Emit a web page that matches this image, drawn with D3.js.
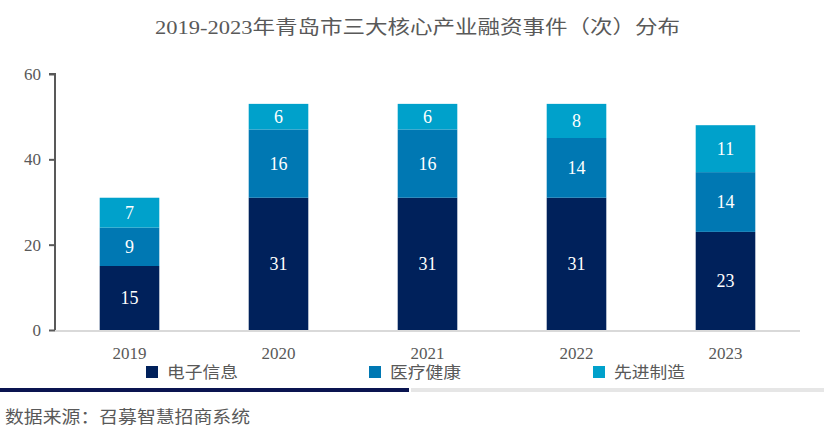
<!DOCTYPE html>
<html>
<head>
<meta charset="utf-8">
<script src="https://cdn.jsdelivr.net/npm/d3@7"></script>
<style>
  body { margin: 0; background: #fff; }
  text { font-family: "Liberation Serif", "Noto Sans CJK SC", serif; }
</style>
</head>
<body>
<svg id="chart" width="824" height="443"></svg>
<script>
const years = ["2019", "2020", "2021", "2022", "2023"];
const seriesNames = ["电子信息", "医疗健康", "先进制造"];
const electronic = [15, 31, 31, 31, 23];
const medical = [9, 16, 16, 14, 14];
const manufacturing = [7, 6, 6, 8, 11];
const yTicks = [0, 20, 40, 60];
const colors = ["#00215b", "#0078b3", "#00a1cb"];

const svg = d3.select("#chart");
const margin = { left: 55, right: 24, top: 74, bottom: 113 };
const width = 824, height = 443;

const x = d3.scaleBand().domain(years)
  .range([margin.left, width - margin.right]).paddingInner(0.6).paddingOuter(0.3);
const y = d3.scaleLinear().domain([0, 60]).range([height - margin.bottom, margin.top]);

// title (reference glyphs are wide, so stretch to the same span)
svg.append("text")
  .attr("x", 155).attr("y", 34)
  .attr("font-size", 19)
  .attr("fill", "#595959")
  .attr("textLength", 525)
  .attr("lengthAdjust", "spacingAndGlyphs")
  .text("2019-2023年青岛市三大核心产业融资事件（次）分布");

// stack
const rows = years.map((yr, i) => ({ year: yr, a: electronic[i], b: medical[i], c: manufacturing[i] }));
const stack = d3.stack().keys(["a", "b", "c"])(rows);

const groups = svg.selectAll("g.series").data(stack).enter()
  .append("g").attr("fill", (d, i) => colors[i]);

groups.selectAll("rect").data(d => d).enter().append("rect")
  .attr("x", d => x(d.data.year))
  .attr("y", d => y(d[1]))
  .attr("width", x.bandwidth())
  .attr("height", d => y(d[0]) - y(d[1]));

groups.selectAll("text").data(d => d.map(p => ({ p, key: d.key }))).enter().append("text")
  .attr("x", d => x(d.p.data.year) + x.bandwidth() / 2)
  .attr("y", d => (y(d.p[0]) + y(d.p[1])) / 2 + 6)
  .attr("text-anchor", "middle")
  .attr("font-size", 18)
  .attr("fill", "#fff")
  .text(d => d.p.data[d.key]);

// x axis line
svg.append("line")
  .attr("x1", margin.left).attr("x2", width - margin.right)
  .attr("y1", y(0) + 1).attr("y2", y(0) + 1)
  .attr("stroke", "#d9d9d9").attr("stroke-width", 2);

// x labels
svg.selectAll("text.xl").data(years).enter().append("text")
  .attr("x", d => x(d) + x.bandwidth() / 2)
  .attr("y", 359)
  .attr("text-anchor", "middle")
  .attr("font-size", 17)
  .attr("fill", "#595959")
  .text(d => d);

// y axis
const yAxis = svg.append("g")
  .attr("transform", `translate(${margin.left},0)`)
  .call(d3.axisLeft(y).tickValues(yTicks).tickSize(6).tickPadding(8));
yAxis.select(".domain").attr("stroke", "#595959").attr("stroke-width", 2)
  .attr("d", `M-6,${y(60)}H0V${y(0)}`);
yAxis.selectAll(".tick line").attr("stroke", "#595959").attr("stroke-width", 2);
yAxis.selectAll(".tick text")
  .attr("font-size", 17).attr("fill", "#595959")
  .attr("font-family", "Liberation Serif, serif");

// legend
const legendX = [146, 369, 593];
const lg = svg.selectAll("g.lg").data(seriesNames).enter().append("g")
  .attr("transform", (d, i) => `translate(${legendX[i]},366)`);
lg.append("rect").attr("width", 12).attr("height", 12).attr("fill", (d, i) => colors[i]);
lg.append("text").attr("x", 21).attr("y", 12)
  .attr("font-size", 16).attr("fill", "#595959")
  .attr("font-family", "Noto Sans CJK SC, sans-serif")
  .attr("textLength", 71)
  .attr("lengthAdjust", "spacingAndGlyphs")
  .text(d => d);

// bottom band
svg.append("rect").attr("x", 0).attr("y", 388).attr("width", 409).attr("height", 4).attr("fill", "#0a1450");
svg.append("rect").attr("x", 411).attr("y", 388).attr("width", width - 411).attr("height", 4).attr("fill", "#e6e6e6");

// source
svg.append("text")
  .attr("x", 5).attr("y", 423)
  .attr("font-size", 17).attr("fill", "#595959")
  .attr("font-family", "Noto Sans CJK SC, sans-serif")
  .attr("textLength", 245)
  .attr("lengthAdjust", "spacingAndGlyphs")
  .text("数据来源：召募智慧招商系统");
</script>
</body>
</html>
